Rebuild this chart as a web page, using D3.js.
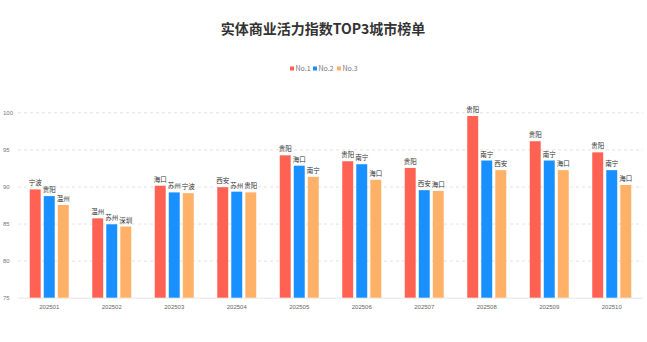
<!DOCTYPE html>
<html><head><meta charset="utf-8">
<script src="https://cdn.jsdelivr.net/npm/d3@7"></script>
<style>body{margin:0;background:#fff;}svg{display:block;font-family:"Noto Sans CJK SC","Noto Sans",sans-serif;}</style>
</head><body>
<svg id="c" width="647" height="342"></svg>
<script>
const months = ["202501","202502","202503","202504","202505","202506","202507","202508","202509","202510"];
const seriesNames = ["No.1","No.2","No.3"];
const no1Values = [89.6,85.7,90.1,89.9,94.2,93.4,92.5,99.5,96.1,94.6];
const no2Values = [88.7,84.9,89.2,89.3,92.8,93.0,89.5,93.5,93.5,92.2];
const no3Values = [87.5,84.6,89.1,89.2,91.3,90.9,89.4,92.2,92.2,90.2];
const no1Cities = ["宁波","温州","海口","西安","贵阳","贵阳","贵阳","贵阳","贵阳","贵阳"];
const no2Cities = ["贵阳","苏州","苏州","苏州","海口","南宁","西安","南宁","南宁","南宁"];
const no3Cities = ["温州","深圳","宁波","贵阳","南宁","海口","海口","西安","海口","海口"];
const yTicks = [75,80,85,90,95,100];
const colors = ["#FF6152","#1890FF","#FFB168"];

const svg = d3.select("#c");
const m = {l:18, r:4, t:112.3, b:44.3};
const W = 647, H = 342;
const x = d3.scaleBand().domain(months).range([m.l, W - m.r]);
const y = d3.scaleLinear().domain([75,100]).range([H - m.b, m.t]);
const x1 = d3.scaleBand().domain([0,1,2]).range([0, 39]).paddingInner(0.22);
const offset = (x.bandwidth() - 39) / 2;

svg.append("text").attr("x", 323).attr("y", 34).attr("text-anchor","middle")
  .attr("font-size", 14).attr("font-weight","bold").attr("fill","#333").text("实体商业活力指数TOP3城市榜单");

// legend
const legX = [290, 313, 337];
seriesNames.forEach((s,i)=>{
  const g = svg.append("g").attr("transform",`translate(${legX[i]},69)`);
  g.append("rect").attr("x",0).attr("y",-2.5).attr("width",4).attr("height",4).attr("fill",colors[i]);
  g.append("text").attr("x",5.5).attr("y",2.3).attr("font-size",7).attr("fill","#777").text(s);
});

// grid
const yAxis = d3.axisLeft(y).tickValues(yTicks).tickSize(-(W - m.l - m.r)).tickPadding(4);
const ga = svg.append("g").attr("transform",`translate(${m.l},0)`).call(yAxis);
ga.select(".domain").remove();
ga.selectAll(".tick line").attr("stroke","#e3e3e3").attr("stroke-dasharray","3,3")
  .filter(d=>d===75).attr("stroke-dasharray",null).attr("stroke","#e6e6e6");
ga.selectAll(".tick text").attr("font-size",6).attr("fill","#777").attr("text-anchor","start").attr("x",-15);

const xAxis = d3.axisBottom(x).tickSize(0).tickPadding(7);
const gx = svg.append("g").attr("transform",`translate(0,${H - m.b})`).call(xAxis);
gx.select(".domain").remove();
gx.selectAll(".tick text").attr("font-size",6).attr("fill","#666");

const series = [no1Values,no2Values,no3Values];
const cities = [no1Cities,no2Cities,no3Cities];
series.forEach((vals,si)=>{
  const g = svg.append("g");
  g.selectAll("rect").data(months).join("rect")
    .attr("x", (d)=> x(d) + offset + x1(si))
    .attr("width", x1.bandwidth())
    .attr("y", (d,i)=> y(vals[i]))
    .attr("height", (d,i)=> y(75) - y(vals[i]))
    .attr("fill", colors[si]);
  g.selectAll("text").data(months).join("text")
    .attr("x", (d)=> x(d) + offset + x1(si) + x1.bandwidth()/2)
    .attr("y", (d,i)=> y(vals[i]) - 4)
    .attr("text-anchor","middle").attr("font-size",6.5).attr("fill","#333")
    .text((d,i)=> cities[si][i]);
});
</script>
</body></html>
